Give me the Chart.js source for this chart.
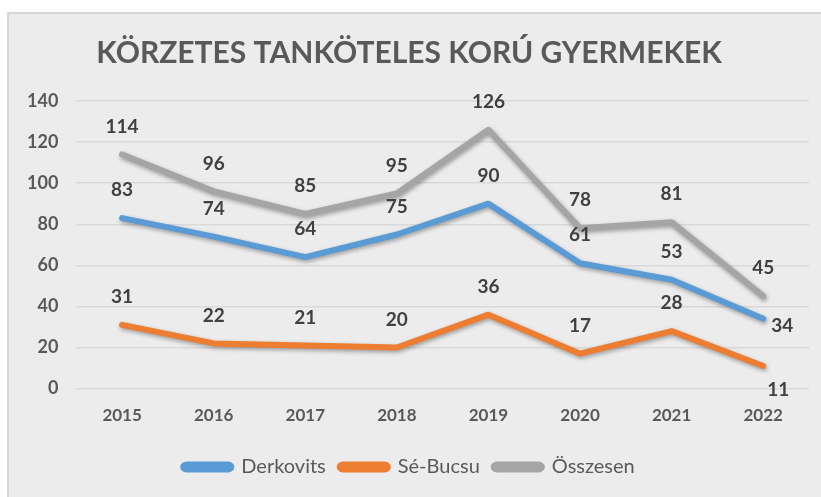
<!DOCTYPE html>
<html>
<head>
<meta charset="utf-8">
<script src="https://cdn.jsdelivr.net/npm/chart.js@4/dist/chart.umd.min.js"></script>
<style>
  html, body { margin: 0; padding: 0; background: #ffffff; }
  #frame {
    position: absolute; left: 7px; top: 12px; width: 814px; height: 485px;
    background: #ececec; border-top: 2px solid #d6d6d6; border-left: 2px solid #d6d6d6;
  }
  #wrap { position: absolute; left: 0; top: 0; width: 812px; height: 483px; }
</style>
</head>
<body>
<div id="frame"><div id="wrap"><canvas id="chart"></canvas></div></div>
<script>
// categories and series
const years = ['2015', '2016', '2017', '2018', '2019', '2020', '2021', '2022'];
const derkovits = [83, 74, 64, 75, 90, 61, 53, 34];
const seBucsu = [31, 22, 21, 20, 36, 17, 28, 11];
const osszesen = [114, 96, 85, 95, 126, 78, 81, 45];
const seriesNames = ['Derkovits', 'Sé-Bucsu', 'Összesen'];
const seriesColors = ['#5b9bd5', '#ed7d31', '#a5a5a5'];

const fontFamily = "Lato, 'Open Sans', sans-serif";

// soft shadow under each line, like the office chart
const lineShadow = {
    id: 'lineShadow',
    beforeDatasetDraw(chart) {
        const ctx = chart.ctx;
        ctx.save();
        ctx.shadowColor = 'rgba(0,0,0,0.35)';
        ctx.shadowBlur = 4;
        ctx.shadowOffsetX = 1;
        ctx.shadowOffsetY = 2;
    },
    afterDatasetDraw(chart) {
        chart.ctx.restore();
    }
};

// value labels above the points (last point of two series sits aside)
const valueLabels = {
    id: 'valueLabels',
    afterDatasetsDraw(chart) {
        const ctx = chart.ctx;
        ctx.save();
        ctx.font = "bold 19px " + fontFamily;
        ctx.fillStyle = '#404040';
        ctx.textAlign = 'center';
        ctx.textBaseline = 'middle';
        chart.data.datasets.forEach((ds, i) => {
            const meta = chart.getDatasetMeta(i);
            meta.data.forEach((pt, j) => {
                let x = pt.x, y = pt.y - 28;
                const last = j === ds.data.length - 1;
                if (last && i === 0) { x = pt.x + 19; y = pt.y + 7; }
                if (last && i === 1) { x = pt.x + 15; y = pt.y + 24; }
                ctx.fillText(ds.data[j], x, y);
            });
        });
        ctx.restore();
    }
};

const datasets = [derkovits, seBucsu, osszesen].map((vals, i) => ({
    label: seriesNames[i],
    data: vals,
    borderColor: seriesColors[i],
    backgroundColor: seriesColors[i],
    borderWidth: 6,
    borderCapStyle: 'round',
    borderJoinStyle: 'round',
    pointRadius: 0,
    tension: 0
}));

new Chart(document.getElementById('chart'), {
    type: 'line',
    data: { labels: years, datasets: datasets },
    plugins: [lineShadow, valueLabels],
    options: {
        responsive: true,
        maintainAspectRatio: false,
        animation: false,
        layout: { padding: { left: 0, right: 12, top: 0, bottom: 10 } },
        scales: {
            x: {
                offset: true,
                grid: { display: false, drawTicks: false },
                border: { display: false },
                ticks: { color: '#595959', font: { family: fontFamily, size: 17, weight: 'bold' }, padding: 17 }
            },
            y: {
                min: 0, max: 140,
                ticks: { stepSize: 20, color: '#595959', font: { family: fontFamily, size: 18, weight: 'bold' }, padding: 18 },
                grid: { color: '#d9d9d9', lineWidth: 1.5, drawTicks: false },
                border: { display: false }
            }
        },
        plugins: {
            title: {
                display: true,
                text: 'KÖRZETES TANKÖTELES KORÚ GYERMEKEK',
                color: '#595959',
                font: { family: fontFamily, size: 30, weight: 'bold' },
                padding: { top: 21, bottom: 30 }
            },
            legend: {
                position: 'bottom',
                labels: {
                    color: '#595959',
                    font: { family: fontFamily, size: 20 },
                    boxWidth: 48,
                    boxHeight: 5,
                    padding: 14,
                    useBorderRadius: true,
                    borderRadius: 3
                }
            },
            tooltip: { enabled: false }
        }
    }
});
</script>
</body>
</html>
